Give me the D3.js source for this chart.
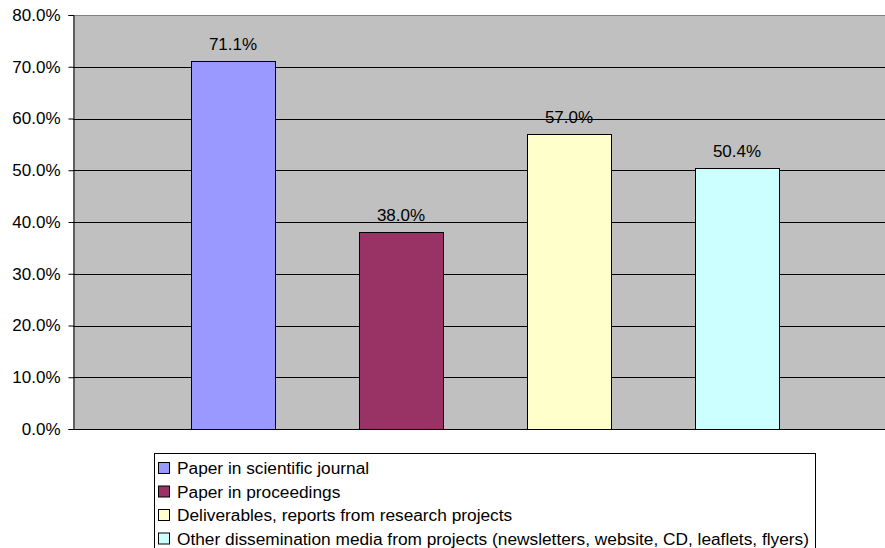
<!DOCTYPE html>
<html>
<head>
<meta charset="utf-8">
<script src="https://cdn.jsdelivr.net/npm/d3@7"></script>
<style>
  body { margin: 0; background: #fff; }
  text { font-family: "Liberation Sans", Arial, sans-serif; fill: #000; }
</style>
</head>
<body>
<div id="chart"></div>
<script>
// Data
var categories = [
  "Paper in scientific journal",
  "Paper in proceedings",
  "Deliverables, reports from research projects",
  "Other dissemination media from projects (newsletters, website, CD, leaflets, flyers)"
];
var values = [71.1, 38.0, 57.0, 50.4];
var colors = ["#9999FF", "#993366", "#FFFFCC", "#CCFFFF"];
var yTicks = [0, 10, 20, 30, 40, 50, 60, 70, 80];

var width = 885, height = 548;
var plot = {left: 73, right: 885, top: 15, bottom: 429};

var svg = d3.select("#chart").append("svg")
  .attr("width", width)
  .attr("height", height);

// scales
var x = d3.scaleBand()
  .domain(categories)
  .range([149, 821])
  .paddingInner(0.5)
  .paddingOuter(0.25);

var y = d3.scaleLinear()
  .domain([0, 80])
  .range([plot.bottom, plot.top]);

// plot background
svg.append("rect")
  .attr("x", plot.left)
  .attr("y", plot.top)
  .attr("width", plot.right - plot.left)
  .attr("height", plot.bottom - plot.top)
  .attr("fill", "#C0C0C0");

// top border
svg.append("line")
  .attr("x1", plot.left).attr("x2", plot.right)
  .attr("y1", plot.top + 0.5).attr("y2", plot.top + 0.5)
  .attr("stroke", "#808080");

// gridlines
svg.selectAll("line.grid")
  .data(yTicks.filter(function(d) { return d > 0 && d < 80; }))
  .enter()
  .append("line")
  .attr("class", "grid")
  .attr("x1", plot.left).attr("x2", plot.right)
  .attr("y1", function(d) { return Math.round(y(d)) + 0.5; })
  .attr("y2", function(d) { return Math.round(y(d)) + 0.5; })
  .attr("stroke", "#000");

// bars
svg.selectAll("rect.bar")
  .data(values)
  .enter()
  .append("rect")
  .attr("class", "bar")
  .attr("x", function(d, i) { return x(categories[i]) + 0.5; })
  .attr("y", function(d) { return Math.round(y(d)) + 0.5; })
  .attr("width", x.bandwidth())
  .attr("height", function(d) { return Math.round(y(0)) - Math.round(y(d)); })
  .attr("fill", function(d, i) { return colors[i]; })
  .attr("stroke", "#000");

// value labels
svg.selectAll("text.val")
  .data(values)
  .enter()
  .append("text")
  .attr("class", "val")
  .attr("x", function(d, i) { return x(categories[i]) + x.bandwidth() / 2; })
  .attr("y", function(d) { return y(d) - 11; })
  .attr("text-anchor", "middle")
  .attr("font-size", "17px")
  .text(function(d) { return d.toFixed(1) + "%"; });

// y axis
var yAxis = d3.axisLeft(y)
  .tickValues(yTicks)
  .tickSize(5)
  .tickPadding(8)
  .tickFormat(function(d) { return d.toFixed(1) + "%"; });

var gy = svg.append("g")
  .attr("transform", "translate(" + (plot.left + 0.5) + ",0)")
  .call(yAxis);
gy.select(".domain").attr("stroke", "#000");
gy.selectAll(".tick text")
  .attr("font-size", "17px")
  .attr("font-family", "Liberation Sans, Arial, sans-serif");

// x baseline
svg.append("line")
  .attr("x1", plot.left).attr("x2", plot.right)
  .attr("y1", Math.round(y(0)) + 0.5).attr("y2", Math.round(y(0)) + 0.5)
  .attr("stroke", "#000");

// legend
var legend = svg.append("g").attr("transform", "translate(154,453)");
legend.append("rect")
  .attr("x", 0.5).attr("y", 0.5)
  .attr("width", 661).attr("height", 110)
  .attr("fill", "#fff")
  .attr("stroke", "#000");

var rowH = 23.5;
var items = legend.selectAll("g.item")
  .data(categories)
  .enter()
  .append("g")
  .attr("class", "item")
  .attr("transform", function(d, i) { return "translate(0," + (15 + i * rowH) + ")"; });

items.append("rect")
  .attr("x", 4.5).attr("y", -5.5)
  .attr("width", 11).attr("height", 11)
  .attr("fill", function(d, i) { return colors[i]; })
  .attr("stroke", "#000");

items.append("text")
  .attr("x", 23)
  .attr("y", 6)
  .attr("font-size", "17.3px")
  .text(function(d) { return d; });
</script>
</body>
</html>
